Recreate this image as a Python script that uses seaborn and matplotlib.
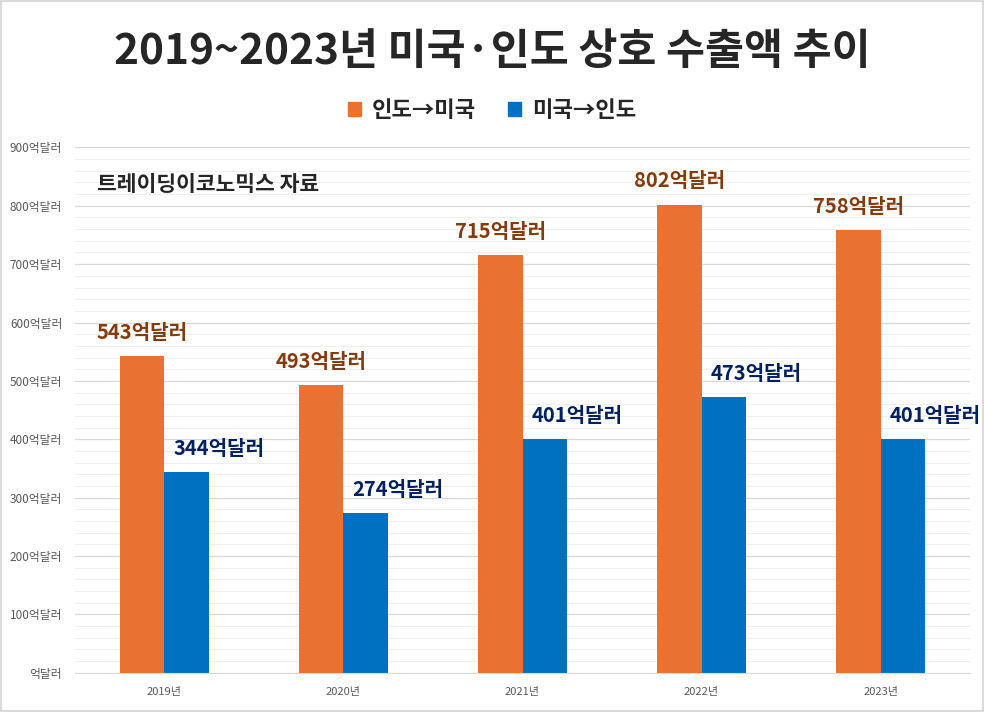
import matplotlib
matplotlib.use('Agg')
import matplotlib.pyplot as plt
import seaborn as sns
import pandas as pd
from matplotlib.ticker import MultipleLocator, FuncFormatter
from matplotlib.patches import Patch

years = ['2019년', '2020년', '2021년', '2022년', '2023년']
india_to_us = [543, 493, 715, 802, 758]
us_to_india = [344, 274, 401, 473, 401]
series_names = ['인도→미국', '미국→인도']
series_colors = ['#E97132', '#0070C0']
label_colors = ['#843C0C', '#002060']

df = pd.DataFrame({
    'year': years * 2,
    'value': india_to_us + us_to_india,
    'series': [series_names[0]] * len(years) + [series_names[1]] * len(years),
})

sns.set_style('white')
plt.rcParams['font.family'] = ['Noto Sans CJK KR', 'DejaVu Sans']

fig = plt.figure(figsize=(9.84, 7.12), dpi=100)
ax = fig.add_axes([0.076, 0.055, 0.910, 0.738])

sns.barplot(data=df, x='year', y='value', hue='series', palette=series_colors,
            width=0.5, saturation=1, linewidth=0, ax=ax, legend=False)

ax.set_ylim(0, 900)
ax.set_xlim(-0.5, 4.5)
ax.yaxis.set_major_locator(MultipleLocator(100))
ax.yaxis.set_minor_locator(MultipleLocator(20))
ax.yaxis.set_major_formatter(FuncFormatter(lambda v, p: '억달러' if v == 0 else f'{int(v)}억달러'))
ax.grid(axis='y', which='major', color='#D9D9D9', linewidth=0.9)
ax.grid(axis='y', which='minor', color='#EFEFEF', linewidth=0.8)
ax.set_axisbelow(True)
for s in ['top', 'right', 'left']:
    ax.spines[s].set_visible(False)
ax.spines['bottom'].set_color('#D9D9D9')
ax.tick_params(axis='y', which='both', length=0, labelsize=8.5, labelcolor='#595959', pad=9)
ax.tick_params(axis='x', length=0, labelsize=8, labelcolor='#595959', pad=10)
ax.set_xlabel('')
ax.set_ylabel('')

# data labels (blue ones sit a bit to the right, like the original)
for container, col, dx in zip(ax.containers, label_colors, [0, 23]):
    for b in container:
        h = b.get_height()
        ax.annotate(f'{int(h)}억달러', (b.get_x() + b.get_width() / 2, h),
                    xytext=(dx, 17), textcoords='offset points', ha='center', va='center',
                    color=col, fontsize=14.5, fontweight='bold')

ax.text(0.025, 0.93, '트레이딩이코노믹스 자료', transform=ax.transAxes,
        fontsize=15.5, fontweight='bold', color='#262626', va='center')

fig.text(0.5, 0.927, '2019~2023년 미국·인도 상호 수출액 추이', ha='center', va='center',
         fontsize=30.5, fontweight='bold', color='#262626')

# legend
handles = [Patch(color=c) for c in series_colors]
fig.legend(handles, series_names, loc='center', bbox_to_anchor=(0.5, 0.845), ncol=2,
           frameon=False, prop={'size': 16, 'weight': 'bold'}, handlelength=0.6,
           handleheight=0.6, columnspacing=1.4, handletextpad=0.5, labelcolor='#262626')

# figure border
fig.patches.append(plt.Rectangle((0.001, 0.001), 0.998, 0.998, transform=fig.transFigure,
                                 fill=False, edgecolor='#D9D9D9', linewidth=1.5))

fig.savefig('out.png', dpi=100)
